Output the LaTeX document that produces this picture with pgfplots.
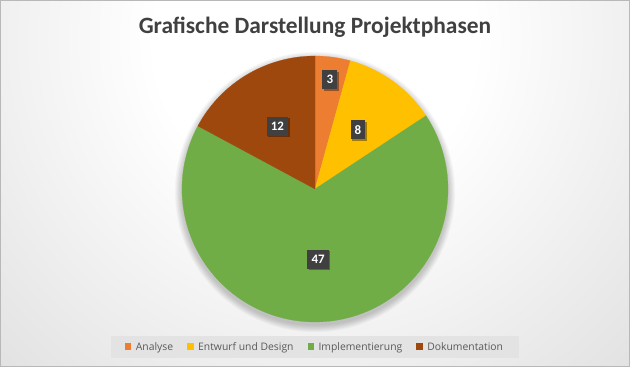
\documentclass[border=0pt]{standalone}
\usepackage{fontspec}
\setmainfont{Carlito}
\newfontfamily\legfont{Open Sans}
\usepackage{pgfplots}
\usepackage{pgfplotstable}
\pgfplotsset{compat=1.18}
\usetikzlibrary{shadows}

\definecolor{cA}{HTML}{ED7D31}
\definecolor{cB}{HTML}{FFC000}
\definecolor{cC}{HTML}{70AD47}
\definecolor{cD}{HTML}{9E480E}
\definecolor{lblbg}{HTML}{404040}
\definecolor{titlec}{HTML}{404040}
\definecolor{legtext}{HTML}{595959}
\definecolor{legfill}{HTML}{E3E3E3}

\pgfdeclareradialshading{bgshade}{\pgfpoint{0bp}{0bp}}{%
  color(0bp)=(white); color(8bp)=(white); color(21bp)=(black!10);
  color(30bp)=(black!17); color(44bp)=(black!22); color(50bp)=(black!23)}

% value, label radius factor
\pgfplotstableread{
value lr
3  0.83
8  0.55
47 0.53
12 0.55
}\piedata

\pgfplotstablegetelem{0}{value}\of\piedata \edef\vA{\pgfplotsretval}
\pgfplotstablegetelem{1}{value}\of\piedata \edef\vB{\pgfplotsretval}
\pgfplotstablegetelem{2}{value}\of\piedata \edef\vC{\pgfplotsretval}
\pgfplotstablegetelem{3}{value}\of\piedata \edef\vD{\pgfplotsretval}
\pgfplotstablegetelem{0}{lr}\of\piedata \edef\rA{\pgfplotsretval}
\pgfplotstablegetelem{1}{lr}\of\piedata \edef\rB{\pgfplotsretval}
\pgfplotstablegetelem{2}{lr}\of\piedata \edef\rC{\pgfplotsretval}
\pgfplotstablegetelem{3}{lr}\of\piedata \edef\rD{\pgfplotsretval}

\def\cx{315}\def\cy{178}\def\R{133}
\pgfmathsetmacro\tot{\vA+\vB+\vC+\vD}
\pgfmathsetmacro\aA{90}
\pgfmathsetmacro\aB{90-\vA/\tot*360}
\pgfmathsetmacro\aC{90-(\vA+\vB)/\tot*360}
\pgfmathsetmacro\aD{90-(\vA+\vB+\vC)/\tot*360}
\pgfmathsetmacro\aE{90-360}
\pgfmathsetmacro\lxA{\cx+\rA*\R*cos((\aA+\aB)/2)}
\pgfmathsetmacro\lyA{\cy+\rA*\R*sin((\aA+\aB)/2)}
\pgfmathsetmacro\lxB{\cx+\rB*\R*cos((\aB+\aC)/2)}
\pgfmathsetmacro\lyB{\cy+\rB*\R*sin((\aB+\aC)/2)}
\pgfmathsetmacro\lxC{\cx+\rC*\R*cos((\aC+\aD)/2)}
\pgfmathsetmacro\lyC{\cy+\rC*\R*sin((\aC+\aD)/2)}
\pgfmathsetmacro\lxD{\cx+\rD*\R*cos((\aD+\aE)/2)}
\pgfmathsetmacro\lyD{\cy+\rD*\R*sin((\aD+\aE)/2)}

\tikzset{lbl/.style={fill=lblbg, text=white, font=\bfseries\fontsize{13}{13}\selectfont,
  inner xsep=4.2bp, inner ysep=0pt, minimum height=19bp, text height=8.6bp, text depth=0pt,
  drop shadow={shadow xshift=1.5bp, shadow yshift=-1.5bp, opacity=0.35, fill=black}}}

\begin{document}
\begin{tikzpicture}
\useasboundingbox (0,0) rectangle (630bp,367bp);
\begin{scope}
  \clip (0,0) rectangle (630bp,367bp);
  \shade[shading=bgshade] (315bp,327bp) circle[radius=500bp];
\end{scope}
% soft shadow of the pie
\foreach \i in {1,...,9}{
  \fill[black, opacity=0.022] (\cx bp,\cy bp-3bp) circle[radius={(\R+0.8*\i)*1bp}];
}
\begin{axis}[
  at={(0,0)}, anchor=south west,
  width=630bp, height=367bp, scale only axis,
  xmin=0, xmax=630, ymin=0, ymax=367,
  hide axis, clip=false,
  legend style={at={(axis cs:315,20)}, anchor=center, draw=none, fill=legfill,
    font=\legfont\fontsize{10.4}{12}\selectfont, text=legtext,
    inner xsep=14bp, inner ysep=4bp,
    /tikz/every even column/.append style={column sep=12bp}},
  legend columns=-1,
  legend cell align=left,
  legend image code/.code={\path[draw=none,fill=none] (0bp,0bp) -- (9bp,0bp);\fill[#1, draw=none] (0bp,-3bp) rectangle (6.5bp,3.5bp);},
]
\addplot[forget plot, fill=cA, draw=cA, line width=0.2bp, domain=\aB:\aA, samples=40, variable=\t]
  ({\cx+\R*cos(\t)},{\cy+\R*sin(\t)}) -- (axis cs:\cx,\cy) -- cycle;
\addplot[forget plot, fill=cB, draw=cB, line width=0.2bp, domain=\aC:\aB, samples=60, variable=\t]
  ({\cx+\R*cos(\t)},{\cy+\R*sin(\t)}) -- (axis cs:\cx,\cy) -- cycle;
\addplot[forget plot, fill=cC, draw=cC, line width=0.2bp, domain=\aD:\aC, samples=200, variable=\t]
  ({\cx+\R*cos(\t)},{\cy+\R*sin(\t)}) -- (axis cs:\cx,\cy) -- cycle;
\addplot[forget plot, fill=cD, draw=cD, line width=0.2bp, domain=\aE:\aD, samples=80, variable=\t]
  ({\cx+\R*cos(\t)},{\cy+\R*sin(\t)}) -- (axis cs:\cx,\cy) -- cycle;

\addlegendimage{fill=cA}\addlegendentry{Analyse}
\addlegendimage{fill=cB}\addlegendentry{Entwurf und Design}
\addlegendimage{fill=cC}\addlegendentry{Implementierung}
\addlegendimage{fill=cD}\addlegendentry{Dokumentation}

\node[lbl] at (axis cs:\lxA,\lyA) {\vA};
\node[lbl] at (axis cs:\lxB,\lyB) {\vB};
\node[lbl] at (axis cs:\lxC,\lyC) {\vC};
\node[lbl] at (axis cs:\lxD,\lyD) {\vD};

\node[font=\bfseries\fontsize{23.5}{26}\selectfont, text=titlec] at (axis cs:315,340) {Grafische Darstellung Projektphasen};
\end{axis}
\draw[black!28, line width=0.8bp] (0.4bp,0.4bp) rectangle (629.6bp,366.6bp);
\end{tikzpicture}
\end{document}
